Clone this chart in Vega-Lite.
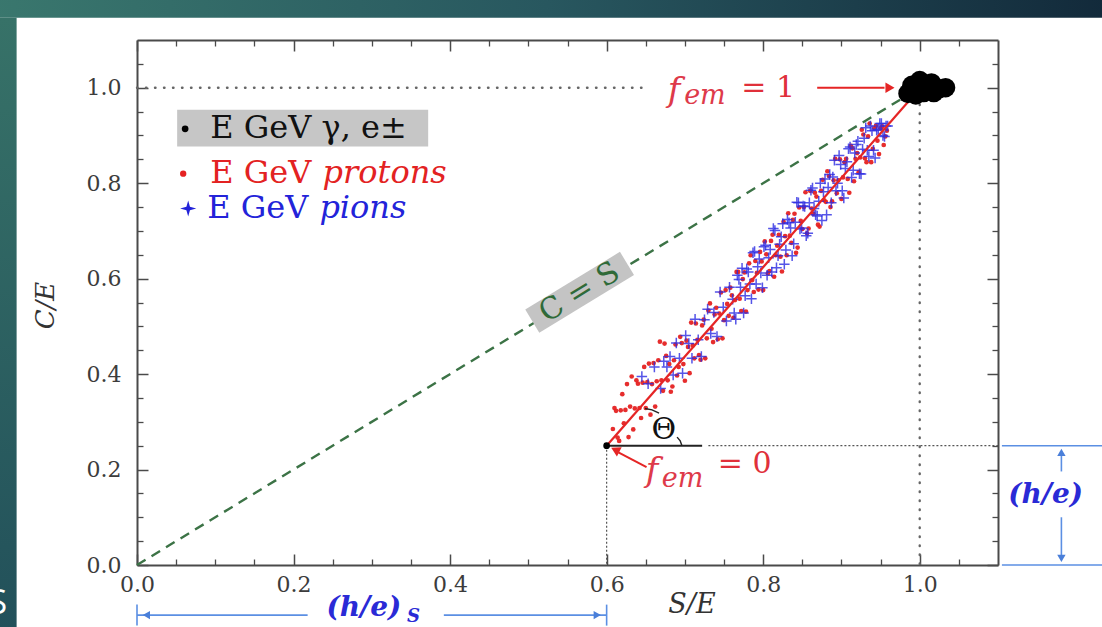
{
  "$schema": "https://vega.github.io/schema/vega-lite/v6.json",
  "width": 861,
  "height": 525,
  "autosize": {"type": "none"},
  "padding": {"left": 137, "top": 40, "right": 104, "bottom": 62},
  "background": "white",
  "config": {"view": {"stroke": null}},
  "datasets": {
    "protons": [
      {"s":0.608,"c":0.285},{"s":0.612,"c":0.323},{"s":0.616,"c":0.26},{"s":0.620,"c":0.358},{"s":0.624,"c":0.325},{"s":0.628,"c":0.268},{"s":0.632,"c":0.395},{"s":0.636,"c":0.328},{"s":0.640,"c":0.38},{"s":0.644,"c":0.308},{"s":0.648,"c":0.415},{"s":0.652,"c":0.383},{"s":0.656,"c":0.315},{"s":0.660,"c":0.423},{"s":0.664,"c":0.385},{"s":0.668,"c":0.468},{"s":0.672,"c":0.365},{"s":0.676,"c":0.438},
      {"s":0.610,"c":0.329},{"s":0.614,"c":0.267},{"s":0.618,"c":0.324},{"s":0.622,"c":0.297},{"s":0.626,"c":0.379},{"s":0.630,"c":0.332},{"s":0.634,"c":0.284},{"s":0.638,"c":0.387},{"s":0.642,"c":0.329},{"s":0.646,"c":0.382},{"s":0.650,"c":0.329},{"s":0.654,"c":0.422},{"s":0.658,"c":0.379},{"s":0.662,"c":0.332},{"s":0.666,"c":0.429},{"s":0.670,"c":0.387},{"s":0.674,"c":0.464},{"s":0.678,"c":0.387},
      {"s":0.680,"c":0.421},{"s":0.684,"c":0.374},{"s":0.688,"c":0.462},{"s":0.692,"c":0.415},{"s":0.696,"c":0.465},{"s":0.700,"c":0.386},{"s":0.704,"c":0.457},{"s":0.708,"c":0.508},{"s":0.712,"c":0.433},{"s":0.716,"c":0.472},
      {"s":0.720,"c":0.43},{"s":0.724,"c":0.514},{"s":0.728,"c":0.475},{"s":0.732,"c":0.548},{"s":0.736,"c":0.467},{"s":0.740,"c":0.539},{"s":0.744,"c":0.527},{"s":0.748,"c":0.475},{"s":0.752,"c":0.576},{"s":0.756,"c":0.522},
      {"s":0.760,"c":0.565},{"s":0.764,"c":0.555},{"s":0.768,"c":0.614},{"s":0.772,"c":0.532},{"s":0.776,"c":0.613},{"s":0.780,"c":0.576},{"s":0.784,"c":0.649},{"s":0.788,"c":0.572},{"s":0.792,"c":0.612},{"s":0.796,"c":0.656},
      {"s":0.800,"c":0.576},{"s":0.804,"c":0.651},{"s":0.808,"c":0.616},{"s":0.812,"c":0.692},{"s":0.816,"c":0.649},{"s":0.820,"c":0.692},{"s":0.824,"c":0.615},{"s":0.828,"c":0.689},{"s":0.832,"c":0.737},{"s":0.836,"c":0.675},
      {"s":0.840,"c":0.736},{"s":0.844,"c":0.665},{"s":0.848,"c":0.721},{"s":0.852,"c":0.75},{"s":0.856,"c":0.695},{"s":0.860,"c":0.784},{"s":0.864,"c":0.736},{"s":0.868,"c":0.772},{"s":0.872,"c":0.709},{"s":0.876,"c":0.807},
      {"s":0.880,"c":0.761},{"s":0.884,"c":0.815},{"s":0.888,"c":0.762},{"s":0.892,"c":0.851},{"s":0.896,"c":0.806},{"s":0.900,"c":0.767},{"s":0.904,"c":0.844},{"s":0.908,"c":0.809},{"s":0.912,"c":0.878},{"s":0.916,"c":0.804},
      {"s":0.920,"c":0.863},{"s":0.924,"c":0.854},{"s":0.928,"c":0.902},{"s":0.932,"c":0.844},{"s":0.936,"c":0.925},{"s":0.940,"c":0.872},{"s":0.944,"c":0.92},{"s":0.948,"c":0.861},{"s":0.952,"c":0.919},{"s":0.956,"c":0.898},
      {"s":0.682,"c":0.363},{"s":0.686,"c":0.429},{"s":0.690,"c":0.397},{"s":0.694,"c":0.478},{"s":0.698,"c":0.421},{"s":0.702,"c":0.47},{"s":0.706,"c":0.402},{"s":0.710,"c":0.46},{"s":0.714,"c":0.506},{"s":0.718,"c":0.44},
      {"s":0.722,"c":0.502},{"s":0.726,"c":0.433},{"s":0.730,"c":0.533},{"s":0.734,"c":0.495},{"s":0.738,"c":0.525},{"s":0.742,"c":0.473},{"s":0.746,"c":0.571},{"s":0.750,"c":0.513},{"s":0.754,"c":0.547},{"s":0.758,"c":0.581},
      {"s":0.762,"c":0.518},{"s":0.766,"c":0.614},{"s":0.770,"c":0.558},{"s":0.774,"c":0.599},{"s":0.778,"c":0.531},{"s":0.782,"c":0.632},{"s":0.786,"c":0.597},{"s":0.790,"c":0.637},{"s":0.794,"c":0.577},{"s":0.798,"c":0.636},
      {"s":0.802,"c":0.678},{"s":0.806,"c":0.611},{"s":0.810,"c":0.679},{"s":0.814,"c":0.604},{"s":0.818,"c":0.669},{"s":0.822,"c":0.646},{"s":0.826,"c":0.719},{"s":0.830,"c":0.649},{"s":0.834,"c":0.69},{"s":0.838,"c":0.723},
      {"s":0.842,"c":0.654},{"s":0.846,"c":0.749},{"s":0.850,"c":0.704},{"s":0.854,"c":0.781},{"s":0.858,"c":0.705},{"s":0.862,"c":0.747},{"s":0.866,"c":0.78},{"s":0.870,"c":0.713},{"s":0.874,"c":0.784},{"s":0.878,"c":0.764},
      {"s":0.882,"c":0.825},{"s":0.886,"c":0.75},{"s":0.890,"c":0.806},{"s":0.894,"c":0.779},{"s":0.898,"c":0.85},{"s":0.902,"c":0.812},{"s":0.906,"c":0.851},{"s":0.910,"c":0.78},{"s":0.914,"c":0.873},{"s":0.918,"c":0.851},
      {"s":0.922,"c":0.823},{"s":0.926,"c":0.912},{"s":0.930,"c":0.852},{"s":0.934,"c":0.898},{"s":0.938,"c":0.844},{"s":0.942,"c":0.915},{"s":0.946,"c":0.889},{"s":0.950,"c":0.915},{"s":0.954,"c":0.88},{"s":0.958,"c":0.91}
    ],
    "pions": [
      {"s":0.645,"c":0.395},{"s":0.653,"c":0.38},{"s":0.661,"c":0.415},{"s":0.669,"c":0.37},{"s":0.673,"c":0.427},{"s":0.677,"c":0.415},
      {"s":0.681,"c":0.437},{"s":0.685,"c":0.398},{"s":0.689,"c":0.465},{"s":0.693,"c":0.433},{"s":0.697,"c":0.402},{"s":0.701,"c":0.481},{"s":0.705,"c":0.464},{"s":0.709,"c":0.433},{"s":0.713,"c":0.515},{"s":0.717,"c":0.472},
      {"s":0.721,"c":0.437},{"s":0.725,"c":0.514},{"s":0.729,"c":0.536},{"s":0.733,"c":0.485},{"s":0.737,"c":0.529},{"s":0.741,"c":0.479},{"s":0.745,"c":0.572},{"s":0.749,"c":0.54},{"s":0.753,"c":0.511},{"s":0.757,"c":0.582},
      {"s":0.761,"c":0.557},{"s":0.765,"c":0.515},{"s":0.769,"c":0.598},{"s":0.773,"c":0.622},{"s":0.777,"c":0.564},{"s":0.781,"c":0.614},{"s":0.785,"c":0.558},{"s":0.789,"c":0.657},{"s":0.793,"c":0.625},{"s":0.797,"c":0.612},
      {"s":0.801,"c":0.667},{"s":0.805,"c":0.607},{"s":0.809,"c":0.661},{"s":0.813,"c":0.705},{"s":0.817,"c":0.623},{"s":0.821,"c":0.672},{"s":0.825,"c":0.715},{"s":0.829,"c":0.66},{"s":0.833,"c":0.717},{"s":0.837,"c":0.648},
      {"s":0.841,"c":0.718},{"s":0.845,"c":0.759},{"s":0.849,"c":0.706},{"s":0.853,"c":0.751},{"s":0.857,"c":0.695},{"s":0.861,"c":0.785},{"s":0.865,"c":0.747},{"s":0.869,"c":0.731},{"s":0.873,"c":0.80},{"s":0.877,"c":0.782},
      {"s":0.881,"c":0.734},{"s":0.885,"c":0.818},{"s":0.889,"c":0.813},{"s":0.893,"c":0.784},{"s":0.897,"c":0.858},{"s":0.901,"c":0.784},{"s":0.905,"c":0.831},{"s":0.909,"c":0.872},{"s":0.913,"c":0.812},{"s":0.917,"c":0.863},
      {"s":0.921,"c":0.888},{"s":0.925,"c":0.819},{"s":0.929,"c":0.894},{"s":0.933,"c":0.869},{"s":0.937,"c":0.92},{"s":0.941,"c":0.869},{"s":0.945,"c":0.911},{"s":0.949,"c":0.925},{"s":0.953,"c":0.90},{"s":0.957,"c":0.92},
      {"s":0.763,"c":0.528},{"s":0.767,"c":0.607},{"s":0.771,"c":0.582},{"s":0.775,"c":0.528},{"s":0.779,"c":0.62},{"s":0.783,"c":0.589},{"s":0.787,"c":0.654},{"s":0.791,"c":0.589},{"s":0.795,"c":0.641},{"s":0.799,"c":0.581},
      {"s":0.803,"c":0.67},{"s":0.807,"c":0.644},{"s":0.811,"c":0.614},{"s":0.815,"c":0.701},{"s":0.819,"c":0.648},{"s":0.823,"c":0.688},{"s":0.827,"c":0.63},{"s":0.831,"c":0.724},{"s":0.835,"c":0.706},{"s":0.839,"c":0.673},
      {"s":0.843,"c":0.76},{"s":0.847,"c":0.704},{"s":0.851,"c":0.752},{"s":0.855,"c":0.69},{"s":0.859,"c":0.759},{"s":0.863,"c":0.79},{"s":0.867,"c":0.734},{"s":0.871,"c":0.762},{"s":0.875,"c":0.722},{"s":0.879,"c":0.809},
      {"s":0.883,"c":0.791},{"s":0.887,"c":0.759},{"s":0.891,"c":0.848},{"s":0.895,"c":0.80},{"s":0.899,"c":0.839},{"s":0.903,"c":0.769},{"s":0.907,"c":0.845},{"s":0.911,"c":0.876},{"s":0.915,"c":0.827},{"s":0.919,"c":0.881},
      {"s":0.923,"c":0.82},{"s":0.927,"c":0.871},{"s":0.931,"c":0.916},{"s":0.935,"c":0.856},{"s":0.939,"c":0.91},{"s":0.943,"c":0.853},{"s":0.947,"c":0.913},{"s":0.951,"c":0.925},{"s":0.955,"c":0.898},{"s":0.959,"c":0.92}
    ],
    "electrons": [
      {"s":0.985,"c":0.988},{"s":0.99,"c":1.005},{"s":1.0,"c":1.015},{"s":1.005,"c":0.99},{"s":1.015,"c":1.01},{"s":1.025,"c":0.998},{"s":1.033,"c":1.0},{"s":1.0,"c":0.995},{"s":0.995,"c":0.985},{"s":1.018,"c":0.99}
    ],
    "origin": [{"s":0,"c":0}]
  },
  "encoding": {
    "x": {"field": "s", "type": "quantitative", "scale": {"domain": [0, 1.1], "nice": false, "zero": false}, "axis": null},
    "y": {"field": "c", "type": "quantitative", "scale": {"domain": [0, 1.1], "nice": false, "zero": false}, "axis": null}
  },
  "layer": [
    {
      "data": {"values": [{"s": -0.2, "c": 1.1464, "s2": 1.25, "c2": 1.2}]},
      "mark": {"type": "rect", "clip": false, "fill": {"gradient": "linear", "x1": 0, "y1": 0, "x2": 1, "y2": 0, "stops": [{"offset": 0, "color": "#3a786e"}, {"offset": 0.5, "color": "#28575f"}, {"offset": 1, "color": "#12293a"}]}},
      "encoding": {"x2": {"field": "s2"}, "y2": {"field": "c2"}}
    },
    {
      "data": {"values": [{"s": -0.2, "c": -0.15, "s2": -0.1538, "c2": 1.1464}]},
      "mark": {"type": "rect", "clip": false, "fill": {"gradient": "linear", "x1": 0, "y1": 0, "x2": 0, "y2": 1, "stops": [{"offset": 0, "color": "#377268"}, {"offset": 1, "color": "#22505a"}]}},
      "encoding": {"x2": {"field": "s2"}, "y2": {"field": "c2"}}
    },
    {
      "data": {"name": "origin"},
      "mark": {"type": "point", "opacity": 0},
      "encoding": {
        "x": {"field": "s", "type": "quantitative", "scale": {"domain": [0, 1.1], "nice": false, "zero": false},
          "axis": {"orient": "bottom", "values": [0, 0.2, 0.4, 0.6, 0.8, 1.0], "format": ".1f", "ticks": false, "grid": false, "title": null,
            "domainColor": "#4a4a4a", "domainWidth": 2, "labelFont": "DejaVu Serif", "labelFontSize": 22, "labelColor": "#3c3c3c",
            "labelPadding": 9, "labelOverlap": false, "labelFlush": false, "labelBound": false}},
        "y": {"field": "c", "type": "quantitative", "scale": {"domain": [0, 1.1], "nice": false, "zero": false},
          "axis": {"orient": "left", "values": [0, 0.2, 0.4, 0.6, 0.8, 1.0], "format": ".1f", "ticks": false, "grid": false,
            "domainColor": "#4a4a4a", "domainWidth": 2, "labelFont": "DejaVu Serif", "labelFontSize": 22, "labelColor": "#3c3c3c",
            "labelPadding": 16, "labelOverlap": false, "labelFlush": false, "labelBound": false,
            "title": "C/E", "titleFont": "DejaVu Serif", "titleFontStyle": "italic", "titleFontWeight": "normal", "titleFontSize": 26,
            "titleColor": "#333333", "titleAngle": -90, "titleX": -92, "titleY": 265, "titleAlign": "center", "titleBaseline": "middle"}}
      }
    },
    {
      "data": {"name": "origin"},
      "mark": {"type": "point", "opacity": 0},
      "encoding": {
        "x": {"field": "s", "type": "quantitative", "scale": {"domain": [0, 1.1], "nice": false, "zero": false},
          "axis": {"orient": "top", "values": [0, 0.2, 0.4, 0.6, 0.8, 1.0], "labels": false, "grid": false, "title": null,
            "domainColor": "#4a4a4a", "domainWidth": 2, "tickColor": "#4a4a4a", "tickWidth": 1.5, "tickSize": -11}},
        "y": {"field": "c", "type": "quantitative", "scale": {"domain": [0, 1.1], "nice": false, "zero": false},
          "axis": {"orient": "right", "values": [0, 0.2, 0.4, 0.6, 0.8, 1.0], "labels": false, "grid": false, "title": null,
            "domainColor": "#4a4a4a", "domainWidth": 2, "tickColor": "#4a4a4a", "tickWidth": 1.5, "tickSize": -11}}
      }
    },
    {
      "data": {"name": "origin"},
      "mark": {"type": "point", "opacity": 0},
      "encoding": {
        "x": {"field": "s", "type": "quantitative", "scale": {"domain": [0, 1.1], "nice": false, "zero": false},
          "axis": {"orient": "bottom", "values": [0, 0.2, 0.4, 0.6, 0.8, 1.0], "labels": false, "domain": false, "grid": false, "title": null,
            "tickColor": "#4a4a4a", "tickWidth": 1.5, "tickSize": -11}},
        "y": {"field": "c", "type": "quantitative", "scale": {"domain": [0, 1.1], "nice": false, "zero": false},
          "axis": {"orient": "left", "values": [0, 0.2, 0.4, 0.6, 0.8, 1.0], "labels": false, "domain": false, "grid": false, "title": null,
            "tickColor": "#4a4a4a", "tickWidth": 1.5, "tickSize": -11}}
      }
    },
    {
      "data": {"name": "origin"},
      "mark": {"type": "point", "opacity": 0},
      "encoding": {
        "x": {"field": "s", "type": "quantitative", "scale": {"domain": [0, 1.1], "nice": false, "zero": false},
          "axis": {"orient": "bottom", "values": [0.05, 0.1, 0.15, 0.25, 0.3, 0.35, 0.45, 0.5, 0.55, 0.65, 0.7, 0.75, 0.85, 0.9, 0.95, 1.05],
            "labels": false, "domain": false, "grid": false, "title": null, "tickColor": "#4a4a4a", "tickWidth": 1.3, "tickSize": -6}},
        "y": {"field": "c", "type": "quantitative", "scale": {"domain": [0, 1.1], "nice": false, "zero": false},
          "axis": {"orient": "left", "values": [0.05, 0.1, 0.15, 0.25, 0.3, 0.35, 0.45, 0.5, 0.55, 0.65, 0.7, 0.75, 0.85, 0.9, 0.95, 1.05],
            "labels": false, "domain": false, "grid": false, "title": null, "tickColor": "#4a4a4a", "tickWidth": 1.3, "tickSize": -6}}
      }
    },
    {
      "data": {"name": "origin"},
      "mark": {"type": "point", "opacity": 0},
      "encoding": {
        "x": {"field": "s", "type": "quantitative", "scale": {"domain": [0, 1.1], "nice": false, "zero": false},
          "axis": {"orient": "top", "values": [0.05, 0.1, 0.15, 0.25, 0.3, 0.35, 0.45, 0.5, 0.55, 0.65, 0.7, 0.75, 0.85, 0.9, 0.95, 1.05],
            "labels": false, "domain": false, "grid": false, "title": null, "tickColor": "#4a4a4a", "tickWidth": 1.3, "tickSize": -6}},
        "y": {"field": "c", "type": "quantitative", "scale": {"domain": [0, 1.1], "nice": false, "zero": false},
          "axis": {"orient": "right", "values": [0.05, 0.1, 0.15, 0.25, 0.3, 0.35, 0.45, 0.5, 0.55, 0.65, 0.7, 0.75, 0.85, 0.9, 0.95, 1.05],
            "labels": false, "domain": false, "grid": false, "title": null, "tickColor": "#4a4a4a", "tickWidth": 1.3, "tickSize": -6}}
      }
    },
    {
      "data": {"values": [{"s": 0.0513, "c": 0.877, "s2": 0.372, "c2": 0.954}]},
      "mark": {"type": "rect", "color": "#c6c6c6"},
      "encoding": {"x2": {"field": "s2"}, "y2": {"field": "c2"}}
    },
    {
      "data": {"values": [{"s": 0, "c": 1, "s2": 0.655, "c2": 1}, {"s": 1, "c": 0.965, "s2": 1, "c2": 0}]},
      "mark": {"type": "rule", "color": "#666666", "strokeWidth": 2.4, "strokeDash": [0.5, 8.5], "strokeCap": "round"},
      "encoding": {"x2": {"field": "s2"}, "y2": {"field": "c2"}}
    },
    {
      "data": {"values": [{"s": 0.73, "c": 0.25, "s2": 1.1, "c2": 0.25}, {"s": 0.6, "c": 0.25, "s2": 0.6, "c2": 0}]},
      "mark": {"type": "rule", "color": "#555555", "strokeWidth": 1.2, "strokeDash": [2, 2]},
      "encoding": {"x2": {"field": "s2"}, "y2": {"field": "c2"}}
    },
    {
      "data": {"values": [{"s": 0, "c": 0, "s2": 0.975, "c2": 0.975}]},
      "mark": {"type": "rule", "color": "#3c7346", "strokeWidth": 2.4, "strokeDash": [10, 7]},
      "encoding": {"x2": {"field": "s2"}, "y2": {"field": "c2"}}
    },
    {
      "data": {"values": [{"s": 0.505, "c": 0.511, "s2": 0.626, "c2": 0.632}]},
      "mark": {"type": "rule", "color": "#c4c4c4", "strokeWidth": 27, "strokeCap": "butt"},
      "encoding": {"x2": {"field": "s2"}, "y2": {"field": "c2"}}
    },
    {
      "data": {"name": "protons"},
      "mark": {"type": "point", "filled": true, "color": "#e52222", "size": 22, "opacity": 0.95}
    },
    {
      "data": {"name": "pions"},
      "mark": {"type": "point", "shape": "M-1,0L1,0M0,-1L0,1", "filled": false, "stroke": "#2b2be3", "strokeWidth": 1.5, "size": 110, "opacity": 0.8}
    },
    {
      "data": {"values": [{"s": 0.6, "c": 0.25, "s2": 0.985, "c2": 0.97}]},
      "mark": {"type": "rule", "color": "#e52525", "strokeWidth": 2.2},
      "encoding": {"x2": {"field": "s2"}, "y2": {"field": "c2"}}
    },
    {
      "data": {"values": [{"s": 0.6, "c": 0.25, "s2": 0.722, "c2": 0.25}]},
      "mark": {"type": "rule", "color": "#222222", "strokeWidth": 2},
      "encoding": {"x2": {"field": "s2"}, "y2": {"field": "c2"}}
    },
    {
      "data": {"values": [
        {"s": 0.649, "c": 0.328, "k": "a"}, {"s": 0.658, "c": 0.325, "k": "a"}, {"s": 0.667, "c": 0.318, "k": "a"},
        {"s": 0.690, "c": 0.268, "k": "b"}, {"s": 0.694, "c": 0.26, "k": "b"}, {"s": 0.696, "c": 0.251, "k": "b"}
      ]},
      "mark": {"type": "line", "color": "#222222", "strokeWidth": 1.4},
      "encoding": {"detail": {"field": "k"}}
    },
    {
      "data": {"name": "electrons"},
      "mark": {"type": "point", "filled": true, "color": "#000000", "size": 380, "opacity": 1}
    },
    {
      "data": {"values": [{"s": 0.6, "c": 0.25}, {"s": 0.0615, "c": 0.914}]},
      "mark": {"type": "point", "filled": true, "color": "#000000", "size": 45, "opacity": 1}
    },
    {
      "data": {"values": [{"s": 0.059, "c": 0.82}]},
      "mark": {"type": "point", "filled": true, "color": "#e52222", "size": 40, "opacity": 1}
    },
    {
      "data": {"values": [{"s": 0.0654, "c": 0.747}]},
      "mark": {"type": "point", "shape": "M0,-1L0.22,-0.22L1,0L0.22,0.22L0,1L-0.22,0.22L-1,0L-0.22,-0.22Z", "filled": true, "color": "#2323d9", "size": 260, "opacity": 1}
    },
    {
      "data": {"values": [{"s": 0.869, "c": 1, "s2": 0.955, "c2": 1}, {"s": 0.651, "c": 0.205, "s2": 0.615, "c2": 0.236}]},
      "mark": {"type": "rule", "color": "#e52525", "strokeWidth": 2},
      "encoding": {"x2": {"field": "s2"}, "y2": {"field": "c2"}}
    },
    {
      "data": {"values": [{"s": 0.962, "c": 1, "a": 90}, {"s": 0.611, "c": 0.2415, "a": -63}]},
      "mark": {"type": "point", "shape": "triangle-up", "filled": true, "color": "#e52525", "size": 110, "opacity": 1},
      "encoding": {"angle": {"field": "a", "type": "quantitative", "scale": null}}
    },
    {
      "data": {"values": [
        {"s": 0, "c": -0.105, "s2": 0.218, "c2": -0.105},
        {"s": 0.392, "c": -0.105, "s2": 0.6, "c2": -0.105},
        {"s": 0, "c": -0.083, "s2": 0, "c2": -0.127},
        {"s": 0.6, "c": -0.083, "s2": 0.6, "c2": -0.127},
        {"s": 1.105, "c": 0.25, "s2": 1.25, "c2": 0.25},
        {"s": 1.105, "c": 0, "s2": 1.25, "c2": 0},
        {"s": 1.181, "c": 0.238, "s2": 1.181, "c2": 0.196},
        {"s": 1.181, "c": 0.1, "s2": 1.181, "c2": 0.015}
      ]},
      "mark": {"type": "rule", "clip": false, "color": "#5b8fe3", "strokeWidth": 1.6},
      "encoding": {"x2": {"field": "s2"}, "y2": {"field": "c2"}}
    },
    {
      "data": {"values": [{"s": 0.012, "c": -0.105, "a": -90}, {"s": 0.588, "c": -0.105, "a": 90}, {"s": 1.181, "c": 0.236, "a": 0}, {"s": 1.181, "c": 0.014, "a": 180}]},
      "mark": {"type": "point", "clip": false, "shape": "triangle-up", "filled": true, "color": "#4a7fd9", "size": 70, "opacity": 1},
      "encoding": {"angle": {"field": "a", "type": "quantitative", "scale": null}}
    },
    {
      "data": {"values": [{"s": 0.0936, "c": 0.895, "t": "E GeV γ, e±"}]},
      "mark": {"type": "text", "font": "DejaVu Serif", "fontSize": 32, "align": "left", "baseline": "alphabetic", "color": "#111111"},
      "encoding": {"text": {"field": "t"}}
    },
    {
      "data": {"values": [{"s": 0.0936, "c": 0.801, "t": "E GeV"}]},
      "mark": {"type": "text", "font": "DejaVu Serif", "fontSize": 32, "align": "left", "baseline": "alphabetic", "color": "#e32222"},
      "encoding": {"text": {"field": "t"}}
    },
    {
      "data": {"values": [{"s": 0.237, "c": 0.801, "t": "protons"}]},
      "mark": {"type": "text", "font": "DejaVu Serif", "fontStyle": "italic", "fontSize": 32, "align": "left", "baseline": "alphabetic", "color": "#e32222"},
      "encoding": {"text": {"field": "t"}}
    },
    {
      "data": {"values": [{"s": 0.0897, "c": 0.728, "t": "E GeV"}]},
      "mark": {"type": "text", "font": "DejaVu Serif", "fontSize": 32, "align": "left", "baseline": "alphabetic", "color": "#2323d9"},
      "encoding": {"text": {"field": "t"}}
    },
    {
      "data": {"values": [{"s": 0.233, "c": 0.728, "t": "pions"}]},
      "mark": {"type": "text", "font": "DejaVu Serif", "fontStyle": "italic", "fontSize": 32, "align": "left", "baseline": "alphabetic", "color": "#2323d9"},
      "encoding": {"text": {"field": "t"}}
    },
    {
      "data": {"values": [{"s": 0.5654, "c": 0.5711, "t": "C = S"}]},
      "mark": {"type": "text", "font": "DejaVu Serif", "fontSize": 30, "angle": -31.5, "align": "center", "baseline": "middle", "color": "#2f6a38"},
      "encoding": {"text": {"field": "t"}}
    },
    {
      "data": {"values": [{"s": 0.678, "c": 0.994, "t": "f"}, {"s": 0.65, "c": 0.197, "t": "f"}]},
      "mark": {"type": "text", "font": "DejaVu Serif", "fontStyle": "italic", "fontSize": 34, "align": "left", "baseline": "middle", "color": "#de3a4a"},
      "encoding": {"text": {"field": "t"}}
    },
    {
      "data": {"values": [{"s": 0.699, "c": 0.983, "t": "em"}, {"s": 0.6705, "c": 0.18, "t": "em"}]},
      "mark": {"type": "text", "font": "DejaVu Serif", "fontStyle": "italic", "fontSize": 27, "align": "left", "baseline": "middle", "color": "#de3a4a"},
      "encoding": {"text": {"field": "t"}}
    },
    {
      "data": {"values": [{"s": 0.772, "c": 1.0, "t": "= 1"}, {"s": 0.742, "c": 0.211, "t": "= 0"}]},
      "mark": {"type": "text", "font": "DejaVu Serif", "fontSize": 30, "align": "left", "baseline": "middle", "color": "#e0303a"},
      "encoding": {"text": {"field": "t"}}
    },
    {
      "data": {"values": [{"s": 0.673, "c": 0.282, "t": "Θ"}]},
      "mark": {"type": "text", "font": "DejaVu Serif", "fontSize": 30, "align": "center", "baseline": "middle", "color": "#111111"},
      "encoding": {"text": {"field": "t"}}
    },
    {
      "data": {"values": [{"s": 0.242, "c": -0.09, "t": "(h/e)"}, {"s": 1.113, "c": 0.146, "t": "(h/e)"}]},
      "mark": {"type": "text", "clip": false, "font": "DejaVu Serif", "fontStyle": "italic", "fontWeight": "bold", "fontSize": 28, "align": "left", "baseline": "middle", "color": "#2a2ad6"},
      "encoding": {"text": {"field": "t"}}
    },
    {
      "data": {"values": [{"s": 0.345, "c": -0.108, "t": "S"}]},
      "mark": {"type": "text", "clip": false, "font": "DejaVu Serif", "fontStyle": "italic", "fontWeight": "bold", "fontSize": 18, "align": "left", "baseline": "middle", "color": "#2a2ad6"},
      "encoding": {"text": {"field": "t"}}
    },
    {
      "data": {"values": [{"s": 0.709, "c": -0.084, "t": "S/E"}]},
      "mark": {"type": "text", "clip": false, "font": "DejaVu Serif", "fontStyle": "italic", "fontSize": 27, "align": "center", "baseline": "middle", "color": "#333333"},
      "encoding": {"text": {"field": "t"}}
    },
    {
      "data": {"values": [{"s": -0.166, "c": -0.082, "t": "S"}]},
      "mark": {"type": "text", "clip": false, "font": "Open Sans", "fontSize": 34, "align": "right", "baseline": "middle", "color": "#ffffff"},
      "encoding": {"text": {"field": "t"}}
    }
  ],
  "resolve": {"axis": {"x": "independent", "y": "independent"}}
}
